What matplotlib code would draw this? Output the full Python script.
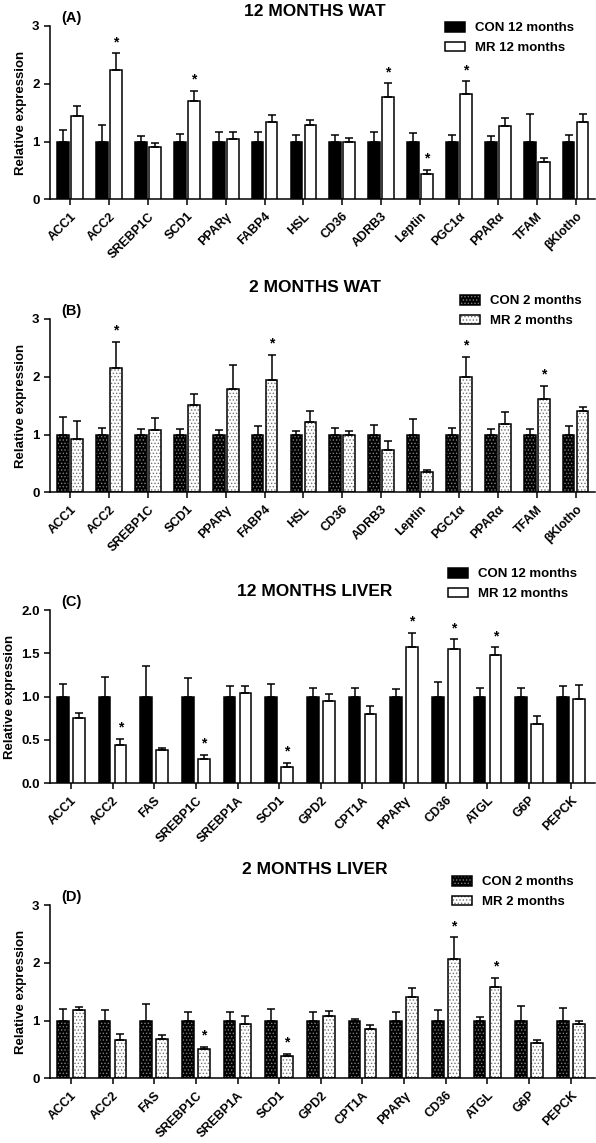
import numpy as np
import matplotlib.pyplot as plt
from matplotlib.patches import Patch
from matplotlib.legend_handler import HandlerTuple

plt.rcParams['font.family'] = ['Liberation Sans', 'DejaVu Sans']
plt.rcParams['font.weight'] = 'bold'
plt.rcParams['axes.labelweight'] = 'bold'
plt.rcParams['hatch.linewidth'] = 0.6

# genes
wat_genes = ['ACC1', 'ACC2', 'SREBP1C', 'SCD1', 'PPARγ', 'FABP4', 'HSL', 'CD36',
             'ADRB3', 'Leptin', 'PGC1α', 'PPARα', 'TFAM', 'βKlotho']
liver_genes = ['ACC1', 'ACC2', 'FAS', 'SREBP1C', 'SREBP1A', 'SCD1', 'GPD2', 'CPT1A',
               'PPARγ', 'CD36', 'ATGL', 'G6P', 'PEPCK']

# (A) 12 months WAT
a_con = [1.0] * 14
a_con_err = [0.20, 0.28, 0.10, 0.13, 0.17, 0.17, 0.11, 0.11, 0.17, 0.15, 0.11, 0.10, 0.47, 0.11]
a_mr = [1.44, 2.23, 0.90, 1.71, 1.05, 1.34, 1.29, 1.00, 1.77, 0.43, 1.82, 1.27, 0.64, 1.34]
a_mr_err = [0.18, 0.30, 0.08, 0.17, 0.11, 0.12, 0.08, 0.06, 0.24, 0.08, 0.22, 0.14, 0.07, 0.14]
a_sig = [1, 3, 8, 9, 10]

# (B) 2 months WAT
b_con = [1.0] * 14
b_con_err = [0.30, 0.11, 0.10, 0.10, 0.07, 0.15, 0.06, 0.11, 0.17, 0.27, 0.11, 0.10, 0.10, 0.15]
b_mr = [0.93, 2.16, 1.08, 1.51, 1.79, 1.94, 1.21, 0.99, 0.73, 0.36, 2.00, 1.18, 1.61, 1.40]
b_mr_err = [0.30, 0.45, 0.20, 0.19, 0.41, 0.44, 0.20, 0.07, 0.16, 0.03, 0.35, 0.21, 0.23, 0.07]
b_sig = [1, 5, 10, 12]

# (C) 12 months liver
c_con = [1.0] * 13
c_con_err = [0.15, 0.23, 0.35, 0.21, 0.12, 0.15, 0.10, 0.10, 0.09, 0.17, 0.10, 0.10, 0.12]
c_mr = [0.75, 0.44, 0.38, 0.28, 1.04, 0.19, 0.95, 0.80, 1.57, 1.55, 1.48, 0.68, 0.97]
c_mr_err = [0.06, 0.07, 0.03, 0.05, 0.08, 0.05, 0.08, 0.09, 0.17, 0.11, 0.09, 0.10, 0.16]
c_sig = [1, 3, 5, 8, 9, 10]

# (D) 2 months liver
d_con = [1.0] * 13
d_con_err = [0.20, 0.19, 0.29, 0.14, 0.14, 0.20, 0.14, 0.02, 0.14, 0.18, 0.06, 0.26, 0.22]
d_mr = [1.18, 0.66, 0.68, 0.50, 0.94, 0.39, 1.07, 0.85, 1.41, 2.07, 1.58, 0.61, 0.94]
d_mr_err = [0.06, 0.10, 0.07, 0.05, 0.13, 0.03, 0.10, 0.08, 0.15, 0.37, 0.16, 0.06, 0.05]
d_sig = [3, 5, 9, 10]

W, H = 596, 1143
fig = plt.figure(figsize=(W / 100, H / 100), dpi=100)

HATCH = '.....'
CON_DOT = '0.5'
MR_DOT = '0.45'


def bars(ax, x, vals, face, dots, dotcolor, width):
    if dots:
        ax.bar(x, vals, width, color=face, edgecolor=dotcolor, hatch=HATCH, linewidth=0, zorder=2)
        ax.bar(x, vals, width, facecolor='none', edgecolor='black', linewidth=1.1, zorder=3)
    else:
        ax.bar(x, vals, width, color=face, edgecolor='black', linewidth=1.1, zorder=3)


def panel(y0, ytop, genes, con, con_err, mr, mr_err, sig, ymax, yticks, yfmt,
          labels, dots, xlim, off, width, title, title_y, tag, leg_x, leg_y):
    ax = fig.add_axes([50 / W, 1 - y0 / H, 545 / W, (y0 - ytop) / H])
    x = np.arange(len(genes))
    bars(ax, x - off, con, 'black', dots, CON_DOT, width)
    bars(ax, x + off, mr, 'white', dots, MR_DOT, width)
    for xs, v, e in [(x - off, con, con_err), (x + off, mr, mr_err)]:
        ax.errorbar(xs, v, yerr=[np.zeros(len(e)), e], fmt='none', ecolor='black',
                    elinewidth=1.1, capsize=2.6, capthick=1.1, zorder=4)
    for i in sig:
        ax.annotate('*', (x[i] + off, mr[i] + mr_err[i]), xytext=(0, 3),
                    textcoords='offset points', ha='center', va='bottom', fontsize=10)
    ax.set_xlim(*xlim)
    ax.set_ylim(0, ymax)
    ax.set_yticks(yticks)
    ax.set_yticklabels([yfmt.format(t) for t in yticks], fontsize=9.5)
    ax.set_xticks(x)
    ax.set_xticklabels(genes, rotation=45, ha='right', rotation_mode='anchor', fontsize=9)
    ax.tick_params(axis='both', direction='out', length=4, width=1.1)
    ax.tick_params(axis='x', pad=4)
    for s in ['top', 'right']:
        ax.spines[s].set_visible(False)
    for s in ['left', 'bottom']:
        ax.spines[s].set_linewidth(1.1)
    ax.set_ylabel('Relative expression', fontsize=9.5)
    fig.text(315 / W, 1 - title_y / H, title, ha='center', va='center', fontsize=12.5)
    fig.text(61 / W, 1 - (ytop - 8) / H, tag, ha='left', va='center', fontsize=10.5)

    if dots:
        h_con = (Patch(facecolor='black', edgecolor=CON_DOT, hatch=HATCH, linewidth=0),
                 Patch(facecolor='none', edgecolor='black', linewidth=1.1))
        h_mr = (Patch(facecolor='white', edgecolor=MR_DOT, hatch=HATCH, linewidth=0),
                Patch(facecolor='none', edgecolor='black', linewidth=1.1))
    else:
        h_con = Patch(facecolor='black', edgecolor='black', linewidth=1.1)
        h_mr = Patch(facecolor='white', edgecolor='black', linewidth=1.1)
    ax.legend([h_con, h_mr], labels, loc='upper left',
              bbox_to_anchor=(leg_x / W, 1 - leg_y / H), bbox_transform=fig.transFigure,
              frameon=False, fontsize=9.5, borderpad=0, borderaxespad=0,
              handlelength=1.55, handleheight=0.75, handletextpad=0.75, labelspacing=0.55,
              handler_map={tuple: HandlerTuple(ndivide=1, pad=0)})
    return ax


panel(199.3, 26, wat_genes, a_con, a_con_err, a_mr, a_mr_err, a_sig, 3, [0, 1, 2, 3], '{:g}',
      ['CON 12 months', 'MR 12 months'], False, (-0.52, 13.5), 0.18, 0.30,
      '12 MONTHS WAT', 11.5, '(A)', 445, 22)
panel(492.3, 319, wat_genes, b_con, b_con_err, b_mr, b_mr_err, b_sig, 3, [0, 1, 2, 3], '{:g}',
      ['CON 2 months', 'MR 2 months'], True, (-0.52, 13.5), 0.18, 0.30,
      '2 MONTHS WAT', 288, '(B)', 460, 295)
panel(783.3, 610, liver_genes, c_con, c_con_err, c_mr, c_mr_err, c_sig, 2.0,
      [0, 0.5, 1.0, 1.5, 2.0], '{:.1f}',
      ['CON 12 months', 'MR 12 months'], False, (-0.5, 12.58), 0.19, 0.28,
      '12 MONTHS LIVER', 591, '(C)', 448, 568)
panel(1078.3, 905, liver_genes, d_con, d_con_err, d_mr, d_mr_err, d_sig, 3, [0, 1, 2, 3], '{:g}',
      ['CON 2 months', 'MR 2 months'], True, (-0.5, 12.58), 0.19, 0.28,
      '2 MONTHS LIVER', 870, '(D)', 452, 876)

fig.savefig('out.png', dpi=100)
